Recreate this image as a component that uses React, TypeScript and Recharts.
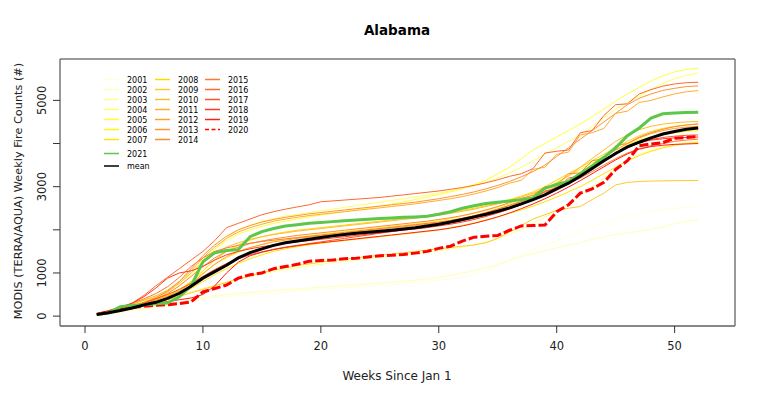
import React from 'react';
import { LineChart, Line, XAxis, YAxis } from 'recharts';

const weeks = [1,2,3,4,5,6,7,8,9,10,11,12,13,14,15,16,17,18,19,20,21,22,23,24,25,26,27,28,29,30,31,32,33,34,35,36,37,38,39,40,41,42,43,44,45,46,47,48,49,50,51,52];

const years = ['2001','2002','2003','2004','2005','2006','2007','2008','2009','2010','2011','2012','2013','2014','2015','2016','2017','2018','2019','2020','2021'];

const yearColors = ['#FFFFDC','#FFFFB8','#FFFF90','#FFFF66','#FFFF38','#FFF41A','#FFE600','#FFD800','#FFCA28','#FFBC30','#FFAE30','#FFA030','#FF9430','#FF8830','#FF7830','#FF6830','#FF5428','#FF3A20','#FF2010','#FF0000','#5CC748'];

const s2001 = [20,50,80,120,150,190,230,280,330,380,420,460,480, 500,520,540,560,580,600,620,640,660,680,700,720,740, 760,780,800,830,860,900,960,1040,1150,1300,1420,1550,1650, 1750,1850,1950,2050,2150,2250,2320,2380,2430,2470,2500,2525,2540];
const s2002 = [30,60,100,140,180,220,260,320,380,430,470,500,530, 550,570,590,610,630,650,670,690,710,730,750,770,790, 810,830,860,900,950,1000,1060,1120,1200,1300,1380,1450,1520, 1580,1640,1700,1780,1840,1890,1930,1965,2010,2070,2140,2200,2234];
const s2003 = [60,120,180,240,300,360,420,480,560,640,720,800,860, 920,980,1030,1080,1120,1160,1200,1240,1270,1300,1330,1360,1390, 1420,1450,1480,1510,1550,1600,1650,1720,1800,1900,2000,2150,2300, 2450,2600,2800,3000,3200,3400,3600,3750,3850,3920,3980,4020,4050];
const s2004 = [40,100,180,260,340,420,520,700,950,1250,1550,1800,2000, 2100,2200,2260,2320,2360,2400,2440,2480,2520,2560,2600,2640,2680, 2720,2760,2800,2850,2900,2960,3020,3100,3200,3320,3450,3600,3750, 3900,4050,4200,4400,4600,4800,4950,5100,5250,5400,5500,5580,5630];
const s2005 = [50,110,190,270,350,440,560,760,1000,1300,1550,1750,1900, 2000,2080,2150,2200,2250,2300,2340,2380,2420,2460,2500,2550,2600, 2650,2700,2760,2820,2880,2950,3050,3150,3300,3450,3650,3850,4000, 4150,4300,4450,4620,4800,4980,5150,5300,5450,5570,5660,5720,5745];
const s2006 = [30,80,150,220,300,380,480,620,800,1000,1200,1350,1480, 1580,1660,1730,1780,1820,1860,1900,1930,1960,1990,2020,2050,2080, 2110,2140,2170,2210,2260,2320,2380,2450,2520,2600,2700,2820,2950, 3100,3250,3400,3550,3700,3850,3980,4080,4150,4200,4250,4280,4300];
const s2007 = [20,60,120,190,260,330,400,500,640,800,960,1100,1220, 1330,1420,1500,1560,1610,1650,1690,1720,1750,1780,1810,1840,1870, 1900,1930,1960,2000,2050,2100,2160,2230,2300,2380,2460,2550,2650, 2760,2880,3000,3150,3300,3450,3600,3720,3820,3900,3960,4000,4032];
const s2008 = [40,90,160,230,300,380,470,600,800,1050,1300,1500,1650, 1760,1840,1900,1950,1990,2020,2050,2080,2110,2140,2170,2200,2230, 2260,2290,2320,2360,2400,2450,2500,2560,2620,2700,2780,2880,3000, 3150,3300,3450,3600,3750,3900,4050,4180,4280,4350,4400,4430,4450];
const s2009 = [30,70,120,170,230,300,380,460,540,620,700,780,860, 940,1010,1070,1120,1170,1210,1250,1290,1320,1350,1380,1410,1440, 1470,1500,1530,1560,1590,1620,1650,1700,1800,1950,2100,2250,2350, 2450,2500,2540,2700,2850,3040,3100,3120,3130,3135,3140,3142,3144];
const s2010 = [50,110,170,240,320,420,560,760,1000,1250,1450,1600,1700, 1780,1840,1890,1930,1970,2000,2030,2060,2090,2120,2150,2180,2210, 2240,2270,2300,2340,2380,2430,2480,2540,2600,2680,2760,2850,2950, 3080,3250,3450,3650,3850,4050,4200,4320,4400,4450,4480,4500,4510];
const s2011 = [60,120,200,280,370,470,600,800,1050,1350,1600,1800,1950, 2050,2130,2200,2250,2290,2330,2360,2390,2420,2450,2480,2510,2540, 2570,2600,2640,2680,2720,2770,2830,2900,2980,3080,3150,3400,3450, 3750,3800,4200,4250,4350,4700,4750,4950,5000,5080,5150,5200,5227];
const s2012 = [40,90,150,220,290,370,460,580,760,980,1200,1380,1500, 1590,1660,1720,1760,1800,1830,1860,1890,1920,1950,1980,2010,2040, 2070,2100,2130,2170,2210,2260,2320,2400,2480,2560,2650,2760,2880, 3000,3150,3320,3500,3680,3850,4000,4130,4230,4300,4350,4380,4400];
const s2013 = [30,80,150,230,320,430,580,800,1100,1400,1650,1850,2000, 2100,2180,2240,2290,2330,2370,2400,2430,2460,2490,2520,2550,2580, 2610,2640,2680,2720,2770,2820,2880,2950,3030,3120,3230,3350,3500, 3700,3900,4100,4300,4500,4700,4900,5050,5150,5230,5280,5320,5335];
const s2014 = [50,100,160,230,310,400,520,700,920,1150,1350,1500,1600, 1680,1740,1790,1830,1870,1900,1930,1960,1990,2020,2050,2080,2110, 2140,2170,2200,2240,2280,2330,2390,2460,2540,2630,2730,2800,3000, 3020,3300,3320,3600,3650,3950,4000,4150,4250,4330,4390,4430,4456];
const s2015 = [60,130,210,300,400,520,680,900,1150,1350,1500,1580,1640, 1690,1730,1760,1790,1820,1850,1880,1910,1940,1970,2000,2030,2060, 2090,2120,2150,2180,2220,2270,2330,2400,2480,2570,2660,2760,2870, 2980,3080,3200,3350,3500,3650,3780,3880,3950,4000,4050,4080,4100];
const s2016 = [40,100,180,300,480,700,900,1100,1300,1500,1750,2050,2150, 2250,2350,2420,2480,2530,2580,2650,2670,2690,2710,2730,2750,2780, 2810,2840,2870,2900,2940,2980,3030,3090,3160,3240,3300,3420,3780, 3820,3850,4250,4300,4650,4900,4920,5150,5250,5330,5380,5410,5420];
const s2017 = [30,80,140,220,300,400,500,620,760,920,1080,1220,1330, 1420,1490,1550,1600,1640,1680,1720,1760,1800,1840,1880,1920,1960, 2000,2040,2080,2120,2160,2210,2270,2340,2420,2510,2610,2700,2900, 2950,3200,3250,3500,3580,3800,3900,4020,4090,4140,4170,4190,4200];
const s2018 = [50,120,200,300,450,650,880,1000,1050,1150,1300,1420,1500, 1560,1610,1650,1690,1720,1750,1780,1810,1840,1870,1900,1930,1960, 1990,2020,2050,2090,2130,2180,2240,2310,2390,2480,2580,2700,2830, 2970,3120,3280,3450,3620,3780,3920,4020,4080,4110,4130,4140,4150];
const s2019 = [40,90,140,190,240,290,340,380,420,500,700,1000,1250, 1400,1480,1540,1590,1630,1670,1700,1730,1760,1790,1820,1850,1880, 1910,1940,1970,2000,2040,2090,2150,2220,2300,2390,2490,2600,2720, 2850,2990,3140,3300,3460,3620,3760,3870,3930,3960,3980,3990,4000];
const s2020 = [40,100,150,200,230,250,265,290,330,560,640,720,880, 960,1000,1100,1150,1200,1270,1290,1300,1330,1340,1370,1400,1410, 1430,1460,1500,1570,1620,1740,1830,1850,1870,1990,2090,2100,2110, 2420,2580,2850,2950,3100,3400,3600,3950,3990,4020,4120,4140,4160];
const s2021 = [35,74,220,245,265,285,305,450,700,1260,1470,1520,1540, 1840,1960,2030,2090,2120,2150,2170,2190,2210,2230,2245,2260,2275, 2290,2300,2315,2360,2420,2500,2560,2610,2640,2670,2700,2740,2960, 3050,3120,3300,3480,3680,3900,4180,4360,4590,4690,4710,4720,4727];
const meanValues = [40,80,130,190,260,320,410,530,690,880,1030,1180,1350, 1470,1560,1640,1700,1740,1780,1820,1860,1890,1920,1945,1965,1990, 2020,2050,2090,2130,2180,2240,2300,2360,2430,2510,2600,2700,2810, 2950,3080,3240,3420,3600,3770,3920,4030,4130,4220,4280,4330,4360];

const yearSeries = [s2001,s2002,s2003,s2004,s2005,s2006,s2007,s2008,s2009,s2010,s2011,s2012,s2013,s2014,s2015,s2016,s2017,s2018,s2019,s2020,s2021];

const xTicks = [0,10,20,30,40,50];
const yTicks = [0,1000,2000,3000,4000,5000];
const yTickLabels = ['0','1000','','3000','','5000'];

const titleText = 'Alabama';
const xLabelText = 'Weeks Since Jan 1';
const yLabelText = 'MODIS (TERRA/AQUA) Weekly Fire Counts (#)';
const meanLabel = 'mean';

const data = weeks.map((w, i) => {
  const row: Record<string, number> = { week: w, mean: meanValues[i] };
  years.forEach((y, j) => { row['y' + y] = yearSeries[j][i]; });
  return row;
});

const FONT = 'DejaVu Sans, Verdana, sans-serif';

const YTick = (props: any) => {
  const { x, y, payload } = props;
  const idx = yTicks.indexOf(payload.value);
  const label = idx >= 0 ? yTickLabels[idx] : '';
  if (!label) return null;
  return (
    <text x={x} y={y} transform={`rotate(-90 ${x} ${y})`} textAnchor="middle" fontSize={11.5} fill="#222" fontFamily={FONT}>
      {label}
    </text>
  );
};

const lineStyle = (year: string) => {
  if (year === '2020') return { width: 3, dash: '9 3' };
  if (year === '2021') return { width: 3, dash: undefined };
  return { width: 1, dash: undefined };
};

const Legend = () => {
  const cols = [years.slice(0, 7), years.slice(7, 14), years.slice(14, 20)];
  const colX = [104, 155, 205];
  const rowY0 = 79.5;
  const rowStep = 10;
  const items: React.ReactNode[] = [];
  cols.forEach((col, c) => {
    col.forEach((yr, r) => {
      const j = years.indexOf(yr);
      const y = rowY0 + r * rowStep;
      items.push(
        <g key={yr}>
          <line x1={colX[c]} x2={colX[c] + 15} y1={y} y2={y} stroke={yearColors[j]} strokeWidth={1.5} strokeDasharray={yr === '2020' ? '4 2.5' : undefined} />
          <text x={colX[c] + 23} y={y + 3} fontSize={8} fontFamily={FONT} fill="#000">{yr}</text>
        </g>
      );
    });
  });
  const j21 = years.indexOf('2021');
  items.push(
    <g key="2021">
      <line x1={colX[0]} x2={colX[0] + 15} y1={153.5} y2={153.5} stroke={yearColors[j21]} strokeWidth={1.5} />
      <text x={colX[0] + 23} y={156.5} fontSize={8} fontFamily={FONT} fill="#000">{years[j21]}</text>
    </g>
  );
  items.push(
    <g key="mean">
      <line x1={colX[0]} x2={colX[0] + 15} y1={166} y2={166} stroke="#000" strokeWidth={1.5} />
      <text x={colX[0] + 23} y={169} fontSize={8} fontFamily={FONT} fill="#000">{meanLabel}</text>
    </g>
  );
  return <>{items}</>;
};

export default function App() {
  return (
    <div style={{ position: 'absolute', left: 0, top: 0, width: 766, height: 401, background: '#fff' }}>
      <LineChart width={766} height={401} data={data} margin={{ top: 58, right: 30, bottom: 45, left: 30 }}>
        <XAxis
          dataKey="week"
          type="number"
          domain={[-2.12, 55.12]}
          ticks={xTicks}
          allowDataOverflow
          height={30}
          tickSize={7}
          tickMargin={9}
          axisLine={{ stroke: '#111', strokeWidth: 1.2 }}
          tickLine={{ stroke: '#333' }}
          tick={{ fontSize: 11.5, fill: '#222', fontFamily: FONT }}
        />
        <XAxis xAxisId="top" orientation="top" dataKey="week" type="number" domain={[-2.12, 55.12]} allowDataOverflow height={1} tick={false} tickLine={false} axisLine={{ stroke: '#777', strokeWidth: 1.5 }} />
        <YAxis
          type="number"
          domain={[-229, 5959]}
          ticks={yTicks}
          allowDataOverflow
          width={30}
          tickSize={7}
          tickMargin={7}
          axisLine={{ stroke: '#555', strokeWidth: 1.2 }}
          tickLine={{ stroke: '#333' }}
          tick={<YTick />}
        />
        <YAxis yAxisId="right" orientation="right" type="number" domain={[-229, 5959]} allowDataOverflow width={1} tick={false} tickLine={false} axisLine={{ stroke: '#777', strokeWidth: 1.5 }} />
        {years.map((yr, j) => {
          const st = lineStyle(yr);
          return (
            <Line
              key={yr}
              type="linear"
              dataKey={'y' + yr}
              stroke={yearColors[j]}
              strokeWidth={st.width}
              strokeDasharray={st.dash}
              dot={false}
              activeDot={false}
              isAnimationActive={false}
            />
          );
        })}
        <Line type="linear" dataKey="mean" stroke="#000" strokeWidth={3} dot={false} activeDot={false} isAnimationActive={false} />
      </LineChart>
      <svg width={766} height={401} style={{ position: 'absolute', left: 0, top: 0, pointerEvents: 'none' }}>
        <text x={397} y={34.5} textAnchor="middle" fontSize={13.5} fontWeight="bold" fontFamily={FONT} fill="#000">{titleText}</text>
        <text x={397} y={380} textAnchor="middle" fontSize={12} fontFamily={FONT} fill="#222">{xLabelText}</text>
        <text x={22} y={191} textAnchor="middle" fontSize={11.3} fontFamily={FONT} fill="#222" transform="rotate(-90 22 191)">{yLabelText}</text>
        <Legend />
      </svg>
    </div>
  );
}
